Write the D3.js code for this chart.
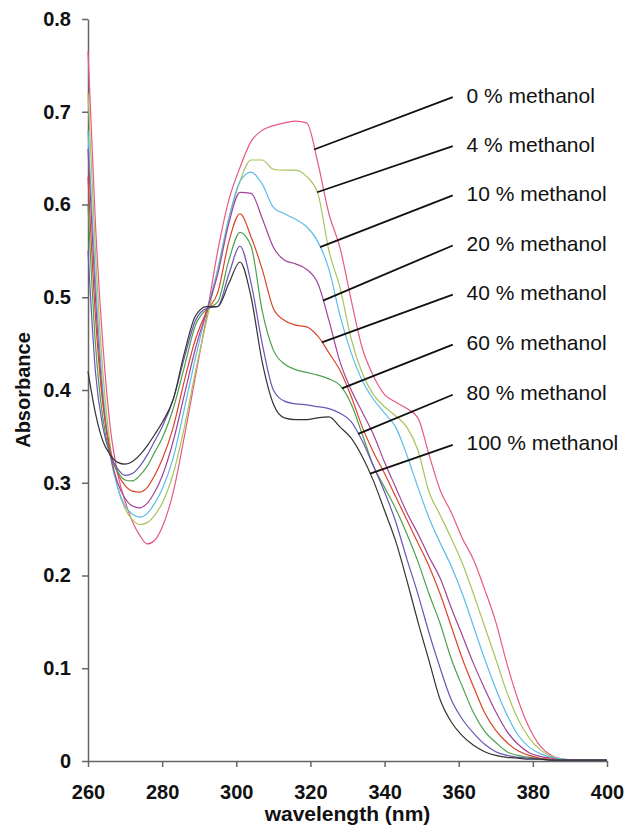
<!DOCTYPE html>
<html>
<head>
<meta charset="utf-8">
<script src="https://cdn.jsdelivr.net/npm/d3@7"></script>
<style>
  body { margin: 0; background: #fff; }
  svg text { font-family: Arial, "Liberation Sans", sans-serif; fill: #111; }
</style>
</head>
<body>
<svg id="chart" width="626" height="826"></svg>
<script>
// wavelength grid (nm) shared by all spectra
const wavelengths = [260, 262, 264, 266, 268, 270, 272, 274, 276, 278, 280,
  283, 286, 289, 292, 295, 298, 301, 304, 307, 310, 313, 316, 319, 322, 325, 328,
  331, 334, 337, 340, 343, 346, 349, 352, 355, 358, 361, 364, 367, 370, 373, 376,
  379, 382, 385, 388, 392, 396, 400];

// absorbance, one array per methanol fraction
const meoh0 = [0.765, 0.58, 0.45, 0.36, 0.31, 0.28, 0.258, 0.243, 0.234, 0.238, 0.252,
  0.29, 0.35, 0.415, 0.48, 0.55, 0.605, 0.64, 0.668, 0.68, 0.685, 0.688, 0.69, 0.688, 0.645, 0.59, 0.553,
  0.497, 0.445, 0.415, 0.395, 0.387, 0.38, 0.37, 0.33, 0.292, 0.268, 0.24, 0.217, 0.185, 0.15, 0.105, 0.066,
  0.036, 0.016, 0.006, 0.002, 0.001, 0.001, 0.001];
const meoh4 = [0.72, 0.55, 0.42, 0.34, 0.295, 0.272, 0.26, 0.255, 0.257, 0.265, 0.278,
  0.31, 0.36, 0.42, 0.475, 0.53, 0.585, 0.625, 0.648, 0.648, 0.638, 0.637, 0.637, 0.63, 0.612, 0.55, 0.51,
  0.455, 0.418, 0.395, 0.382, 0.372, 0.36, 0.335, 0.29, 0.265, 0.24, 0.213, 0.18, 0.145, 0.11, 0.074, 0.045,
  0.025, 0.012, 0.005, 0.002, 0.001, 0.001, 0.001];
const meoh10 = [0.68, 0.52, 0.40, 0.33, 0.295, 0.275, 0.266, 0.263, 0.267, 0.278, 0.293,
  0.327, 0.38, 0.435, 0.485, 0.53, 0.585, 0.625, 0.635, 0.622, 0.597, 0.59, 0.584, 0.576, 0.56, 0.53, 0.48,
  0.44, 0.41, 0.39, 0.375, 0.36, 0.33, 0.295, 0.262, 0.235, 0.21, 0.18, 0.145, 0.11, 0.078, 0.05, 0.028,
  0.015, 0.008, 0.004, 0.002, 0.001, 0.001, 0.001];
const meoh20 = [0.66, 0.50, 0.39, 0.33, 0.30, 0.283, 0.275, 0.273, 0.278, 0.29, 0.307,
  0.345, 0.395, 0.445, 0.485, 0.525, 0.58, 0.613, 0.612, 0.585, 0.554, 0.54, 0.536, 0.53, 0.515, 0.475, 0.43,
  0.40, 0.376, 0.352, 0.322, 0.295, 0.268, 0.245, 0.22, 0.197, 0.165, 0.135, 0.105, 0.078, 0.053, 0.032, 0.018,
  0.009, 0.005, 0.003, 0.001, 0.001, 0.001, 0.001];
const meoh40 = [0.63, 0.48, 0.385, 0.335, 0.31, 0.297, 0.291, 0.29, 0.295, 0.308, 0.325,
  0.36, 0.41, 0.455, 0.485, 0.505, 0.56, 0.59, 0.565, 0.53, 0.488, 0.475, 0.47, 0.468, 0.458, 0.44, 0.421,
  0.393, 0.36, 0.333, 0.31, 0.285, 0.26, 0.235, 0.21, 0.18, 0.145, 0.11, 0.08, 0.052, 0.033, 0.02, 0.011,
  0.006, 0.003, 0.002, 0.001, 0.001, 0.001, 0.001];
const meoh60 = [0.60, 0.45, 0.37, 0.33, 0.312, 0.303, 0.302, 0.308, 0.318, 0.333, 0.348,
  0.38, 0.425, 0.47, 0.487, 0.495, 0.54, 0.57, 0.555, 0.485, 0.443, 0.428, 0.422, 0.419, 0.416, 0.412, 0.405,
  0.385, 0.352, 0.318, 0.295, 0.272, 0.245, 0.215, 0.18, 0.148, 0.11, 0.08, 0.052, 0.032, 0.02, 0.01, 0.006,
  0.004, 0.002, 0.001, 0.001, 0.001, 0.001, 0.001];
const meoh80 = [0.55, 0.42, 0.36, 0.33, 0.315, 0.308, 0.31, 0.318, 0.33, 0.345, 0.36,
  0.39, 0.435, 0.475, 0.488, 0.49, 0.525, 0.555, 0.515, 0.45, 0.40, 0.388, 0.385, 0.384, 0.382, 0.38, 0.375,
  0.366, 0.345, 0.318, 0.29, 0.258, 0.218, 0.18, 0.138, 0.10, 0.066, 0.045, 0.03, 0.018, 0.01, 0.006, 0.004,
  0.003, 0.002, 0.001, 0.001, 0.001, 0.001, 0.001];
const meoh100 = [0.42, 0.375, 0.345, 0.33, 0.322, 0.32, 0.323, 0.33, 0.34, 0.352, 0.365,
  0.39, 0.44, 0.48, 0.49, 0.49, 0.515, 0.538, 0.50, 0.43, 0.385, 0.37, 0.368, 0.368, 0.37, 0.371, 0.36,
  0.348, 0.328, 0.302, 0.27, 0.237, 0.195, 0.15, 0.108, 0.066, 0.042, 0.027, 0.017, 0.01, 0.006, 0.004, 0.003,
  0.002, 0.002, 0.001, 0.001, 0.001, 0.001, 0.001];

const seriesNames = ['0 % methanol', '4 % methanol', '10 % methanol', '20 % methanol',
  '40 % methanol', '60 % methanol', '80 % methanol', '100 % methanol'];
const seriesValues = [meoh0, meoh4, meoh10, meoh20, meoh40, meoh60, meoh80, meoh100];
const seriesColors = ['#e85a80', '#a8c45c', '#5cbce8', '#a0449a', '#d9452a', '#4ca04c', '#6a55b5', '#333333'];

// where each leader line touches its curve (nm) and the label height (absorbance)
const leaderWavelengths = [321.0, 321.8, 322.6, 323.4, 323.1, 328.5, 332.9, 336.1];
const labelAbsorbance = [0.718, 0.665, 0.612, 0.558, 0.505, 0.451, 0.397, 0.343];
const labelWavelength = 362.1;
const leaderEndWavelength = 358.4;

const xTicks = [260, 280, 300, 320, 340, 360, 380, 400];
const yTicks = [0, 0.1, 0.2, 0.3, 0.4, 0.5, 0.6, 0.7, 0.8];
const yTickLabels = ['0', '0.1', '0.2', '0.3', '0.4', '0.5', '0.6', '0.7', '0.8'];

const svg = d3.select('#chart');

const x = d3.scaleLinear().domain([260, 400]).range([88, 607]);
const y = d3.scaleLinear().domain([0, 0.8]).range([761, 19]);

// axes
const yAxis = svg.append('g')
    .attr('transform', `translate(${x(260)},0)`)
    .call(d3.axisLeft(y).tickValues(yTicks).tickSize(6).tickSizeOuter(0).tickPadding(11)
      .tickFormat((d, i) => yTickLabels[i]));
const xAxis = svg.append('g')
    .attr('transform', `translate(0,${y(0)})`)
    .call(d3.axisBottom(x).tickValues(xTicks).tickSize(6).tickSizeOuter(0).tickPadding(18));

[xAxis, yAxis].forEach(g => {
  g.select('.domain').attr('stroke', '#666').attr('stroke-width', 1.5);
  g.selectAll('.tick line').attr('stroke', '#666').attr('stroke-width', 1.5);
  g.selectAll('.tick text')
      .style('font-size', '20px')
      .style('font-weight', 'bold')
      .attr('fill', '#111');
});

// spectra
const line = d3.line()
    .x((d, i) => x(wavelengths[i]))
    .y(d => y(d))
    .curve(d3.curveMonotoneX);

svg.append('g')
  .selectAll('path')
  .data(seriesValues)
  .join('path')
    .attr('d', d => line(d))
    .attr('fill', 'none')
    .attr('stroke', (d, i) => seriesColors[i])
    .attr('stroke-width', 1.2);

// value of a spectrum at any wavelength (straight between read points)
function valueAt(values, wl) {
  const i = d3.bisectRight(wavelengths, wl) - 1;
  const t = (wl - wavelengths[i]) / (wavelengths[i + 1] - wavelengths[i]);
  return values[i] + t * (values[i + 1] - values[i]);
}

// leader lines and labels
const labels = svg.append('g');
seriesNames.forEach((name, i) => {
  const wl = leaderWavelengths[i];
  labels.append('line')
      .attr('x1', x(wl))
      .attr('y1', y(valueAt(seriesValues[i], wl)))
      .attr('x2', x(leaderEndWavelength))
      .attr('y2', y(labelAbsorbance[i]) + 2)
      .attr('stroke', '#111')
      .attr('stroke-width', 1.8);
  labels.append('text')
      .attr('x', x(labelWavelength))
      .attr('y', y(labelAbsorbance[i]))
      .attr('dy', '0.36em')
      .style('font-size', '21px')
      .text(name);
});

// axis titles
svg.append('text')
    .attr('x', (x(260) + x(400)) / 2)
    .attr('y', 821)
    .attr('text-anchor', 'middle')
    .style('font-size', '21px')
    .style('font-weight', 'bold')
    .text('wavelength (nm)');

svg.append('text')
    .attr('transform', `translate(30,${(y(0) + y(0.8)) / 2}) rotate(-90)`)
    .attr('text-anchor', 'middle')
    .style('font-size', '20px')
    .style('font-weight', 'bold')
    .text('Absorbance');
</script>
</body>
</html>
